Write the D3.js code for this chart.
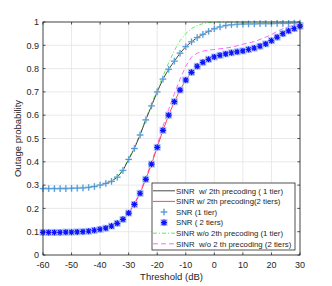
<!DOCTYPE html>
<html><head><meta charset="utf-8">
<script src="https://cdn.jsdelivr.net/npm/d3@7"></script>
<style>body{margin:0;background:#fff}svg{display:block;font-family:"Liberation Sans",Arial,sans-serif}</style>
</head><body><svg id="c" width="332" height="286"></svg>
<script>
const thresholds = [-60,-58,-56,-54,-52,-50,-48,-46,-44,-42,-40,-38,-36,-34,-32,-30,-28,-26,-24,-22,-20,-18,-16,-14,-12,-10,-8,-6,-4,-2,0,2,4,6,8,10,12,14,16,18,20,22,24,26,28,30];
const sinrW1 = [0.285,0.285,0.285,0.285,0.285,0.286,0.287,0.288,0.290,0.294,0.300,0.307,0.316,0.334,0.363,0.410,0.457,0.515,0.580,0.640,0.700,0.755,0.797,0.832,0.866,0.894,0.915,0.933,0.947,0.960,0.971,0.979,0.985,0.988,0.990,0.991,0.992,0.992,0.993,0.993,0.993,0.994,0.994,0.994,0.995,0.995];
const sinrW2 = [0.097,0.097,0.097,0.097,0.098,0.098,0.099,0.100,0.102,0.106,0.110,0.115,0.124,0.136,0.153,0.180,0.217,0.265,0.325,0.390,0.462,0.535,0.600,0.658,0.708,0.751,0.784,0.810,0.827,0.840,0.850,0.857,0.863,0.868,0.872,0.876,0.882,0.888,0.896,0.906,0.920,0.935,0.950,0.962,0.972,0.982];
const snr1 = sinrW1;
const snr2 = sinrW2;
const sinrWo1 = [0.288,0.288,0.288,0.288,0.288,0.289,0.290,0.291,0.293,0.297,0.303,0.310,0.320,0.338,0.366,0.414,0.462,0.520,0.585,0.648,0.710,0.768,0.825,0.878,0.920,0.950,0.972,0.985,0.993,0.998,1,1,1,1,1,1,1,1,1,1,1,1,1,1,1,1];
const sinrWo2 = [0.097,0.097,0.097,0.097,0.098,0.098,0.099,0.100,0.102,0.106,0.110,0.115,0.124,0.136,0.154,0.182,0.220,0.270,0.332,0.398,0.472,0.552,0.625,0.692,0.755,0.810,0.850,0.866,0.875,0.879,0.882,0.885,0.888,0.892,0.898,0.905,0.910,0.916,0.925,0.935,0.946,0.960,0.971,0.980,0.987,0.990];
const xTicks = [-60,-50,-40,-30,-20,-10,0,10,20,30];
const yTicks = [0,0.1,0.2,0.3,0.4,0.5,0.6,0.7,0.8,0.9,1];
const legendLabels = ["SINR  w/ 2th precoding ( 1 tier)","SINR w/ 2th precoding(2 tiers)","SNR (1 tier)","SNR ( 2 tiers)","SINR w/o 2th precoding (1 tier)","SINR  w/o 2 th precoding (2 tiers)"];

const svg = d3.select("#c");
const L=43,R=300,T=22,B=255;
const x = d3.scaleLinear().domain([-60,30]).range([L,R]);
const y = d3.scaleLinear().domain([0,1]).range([B,T]);

const g = svg.append("g");
g.selectAll(".gx").data(xTicks).enter().append("line").attr("x1",d=>x(d)).attr("x2",d=>x(d)).attr("y1",T).attr("y2",B).attr("stroke","#e3e3e3").attr("stroke-width",0.8);
g.selectAll(".gy").data(yTicks).enter().append("line").attr("y1",d=>y(d)).attr("y2",d=>y(d)).attr("x1",L).attr("x2",R).attr("stroke","#e3e3e3").attr("stroke-width",0.8);

const line = (vals)=>d3.line().x((d,i)=>x(thresholds[i])).y(d=>y(d))(vals);

svg.append("path").attr("d",line(sinrWo1)).attr("fill","none").attr("stroke","#44ee44").attr("stroke-width",0.9).attr("stroke-dasharray","4,2,1,2");
svg.append("path").attr("d",line(sinrWo2)).attr("fill","none").attr("stroke","#ff55ff").attr("stroke-width",0.9).attr("stroke-dasharray","5,3");
svg.append("path").attr("d",line(sinrW1)).attr("fill","none").attr("stroke","#333").attr("stroke-width",0.9);
svg.append("path").attr("d",line(sinrW2)).attr("fill","none").attr("stroke","#ff3333").attr("stroke-width",0.9);

function plus(sel,cx,cy){
  const s=3.3;
  sel.append("path").attr("d",`M${cx-s},${cy}H${cx+s}M${cx},${cy-s}V${cy+s}`).attr("stroke","#b5d6f2").attr("stroke-width",1.8);
  sel.append("path").attr("d",`M${cx-s},${cy}H${cx+s}M${cx},${cy-s}V${cy+s}`).attr("stroke","#3a8ad0").attr("stroke-width",0.8);
}
function star(sel,cx,cy){
  const s=3,d=2.2;
  sel.append("rect").attr("x",cx-3.5).attr("y",cy-3.5).attr("width",7).attr("height",7).attr("fill","#b0c8f4");
  sel.append("path").attr("d",`M${cx-s},${cy}H${cx+s}M${cx},${cy-s}V${cy+s}M${cx-d},${cy-d}L${cx+d},${cy+d}M${cx-d},${cy+d}L${cx+d},${cy-d}`).attr("stroke","#1010ff").attr("stroke-width",1.2);
}
const m1 = svg.append("g");
snr1.forEach((v,i)=>plus(m1,x(thresholds[i]),y(v)));
const m2 = svg.append("g");
snr2.forEach((v,i)=>star(m2,x(thresholds[i]),y(v)));

svg.append("rect").attr("x",L).attr("y",T).attr("width",R-L).attr("height",B-T).attr("fill","none").attr("stroke","#262626").attr("stroke-width",0.8);
const tk=2.5;
xTicks.forEach(t=>{
  svg.append("line").attr("x1",x(t)).attr("x2",x(t)).attr("y1",B).attr("y2",B-tk).attr("stroke","#262626").attr("stroke-width",0.8);
  svg.append("line").attr("x1",x(t)).attr("x2",x(t)).attr("y1",T).attr("y2",T+tk).attr("stroke","#262626").attr("stroke-width",0.8);
  svg.append("text").attr("x",x(t)).attr("y",B+13).attr("text-anchor","middle").attr("font-size",9).attr("fill","#262626").text(t);
});
yTicks.forEach(t=>{
  svg.append("line").attr("x1",L).attr("x2",L+tk).attr("y1",y(t)).attr("y2",y(t)).attr("stroke","#262626").attr("stroke-width",0.8);
  svg.append("line").attr("x1",R).attr("x2",R-tk).attr("y1",y(t)).attr("y2",y(t)).attr("stroke","#262626").attr("stroke-width",0.8);
  svg.append("text").attr("x",L-4).attr("y",y(t)+3.2).attr("text-anchor","end").attr("font-size",9).attr("fill","#262626").text(t);
});
svg.append("text").attr("x",(L+R)/2).attr("y",280).attr("text-anchor","middle").attr("font-size",9.5).attr("fill","#262626").text("Threshold (dB)");
svg.append("text").attr("transform",`translate(21,${(T+B)/2}) rotate(-90)`).attr("text-anchor","middle").attr("font-size",9.5).attr("fill","#262626").text("Outage probability");

const lg = svg.append("g");
const lx=152,ly=183,lw=143,lh=67;
lg.append("rect").attr("x",lx).attr("y",ly).attr("width",lw).attr("height",lh).attr("fill","#fff").attr("stroke","#262626").attr("stroke-width",0.8);
const rowY = i=> ly+7.8+i*10.6;
const styles = [
  {stroke:"#333",dash:null},{stroke:"#ff3333",dash:null},{m:"plus"},{m:"star"},
  {stroke:"#44ee44",dash:"4,2,1,2"},{stroke:"#ff55ff",dash:"5,3"}];
styles.forEach((s,i)=>{
  const yy=rowY(i);
  if(s.m==="plus") plus(lg,164,yy);
  else if(s.m==="star") star(lg,164,yy);
  else lg.append("line").attr("x1",153).attr("x2",175).attr("y1",yy).attr("y2",yy).attr("stroke",s.stroke).attr("stroke-width",0.9).attr("stroke-dasharray",s.dash);
  lg.append("text").attr("x",176).attr("y",yy+2.7).attr("font-size",7.8).attr("fill","#262626").attr("xml:space","preserve").style("white-space","pre").text(legendLabels[i]);
});
</script></body></html>
